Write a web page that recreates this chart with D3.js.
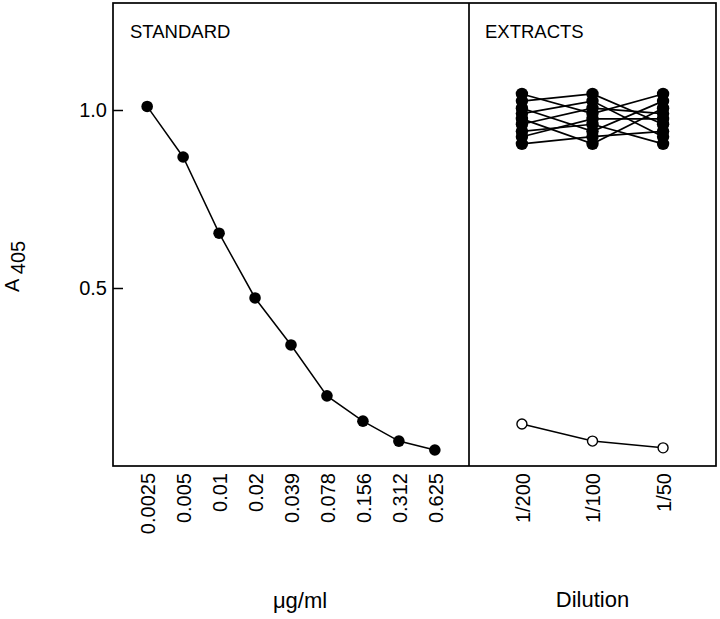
<!DOCTYPE html>
<html>
<head>
<meta charset="utf-8">
<script src="https://cdn.jsdelivr.net/npm/d3@7"></script>
<style>
  body { margin: 0; background: #fff; }
  svg { display: block; font-family: "Liberation Sans", Arial, sans-serif; }
</style>
</head>
<body>
<div id="chart"></div>
<script>
// Standard curve
const concentrations = ['0.0025', '0.005', '0.01', '0.02', '0.039', '0.078', '0.156', '0.312', '0.625'];
const standardA405 = [1.01, 0.868, 0.654, 0.472, 0.340, 0.197, 0.126, 0.070, 0.045];

// Extracts
const dilutions = ['1/200', '1/100', '1/50'];
const extractSeries = [
  [1.045, 0.990, 1.045],
  [1.025, 1.045, 0.960],
  [1.005, 0.940, 1.025],
  [0.990, 1.025, 0.925],
  [0.975, 0.905, 1.005],
  [0.960, 1.005, 0.990],
  [0.940, 0.960, 0.905],
  [0.925, 0.975, 0.975],
  [0.905, 0.925, 0.940]
];
const blankSeries = [0.118, 0.070, 0.051];

const yTicks = [0.5, 1.0];

const width = 720, height = 619;
const frame = { left: 113, mid: 469, right: 716, top: 3, bottom: 466 };

const svg = d3.select('#chart').append('svg')
  .attr('width', width)
  .attr('height', height);

const y = d3.scaleLinear().domain([0, 1.3]).range([frame.bottom, frame.top + 0.2]);

const xStd = d3.scalePoint()
  .domain(concentrations)
  .range([frame.left, frame.mid])
  .padding(0.95);

const xExt = d3.scalePoint()
  .domain(dilutions)
  .range([frame.mid, frame.right])
  .padding(0.75);

// frame
svg.append('rect')
  .attr('x', frame.left).attr('y', frame.top)
  .attr('width', frame.right - frame.left).attr('height', frame.bottom - frame.top)
  .attr('fill', 'none').attr('stroke', '#000').attr('stroke-width', 1.7);
svg.append('line')
  .attr('x1', frame.mid).attr('x2', frame.mid).attr('y1', frame.top).attr('y2', frame.bottom)
  .attr('stroke', '#000').attr('stroke-width', 1.7);

// y axis
svg.append('g')
  .attr('transform', `translate(${frame.left},0)`)
  .call(d3.axisLeft(y).tickValues(yTicks).tickSize(-10).tickPadding(6).tickFormat(d3.format('.1f')))
  .call(g => g.select('.domain').remove())
  .call(g => g.selectAll('.tick line').attr('stroke', '#000').attr('stroke-width', 1.5))
  .call(g => g.selectAll('.tick text').attr('fill', '#000').style('font-size', '20px')
    .attr('font-family', null).attr('x', -6));

// x axes with rotated labels
function xAxis(scale) {
  return g => g
    .attr('transform', `translate(0,${frame.bottom})`)
    .call(d3.axisBottom(scale).tickSize(0))
    .call(g => g.select('.domain').remove())
    .call(g => g.selectAll('.tick text')
      .attr('fill', '#000')
      .attr('font-family', null)
      .style('font-size', '20px')
      .attr('transform', 'rotate(-90)')
      .attr('text-anchor', 'end')
      .attr('x', -7)
      .attr('y', 0)
      .attr('dy', '0.36em'));
}
svg.append('g').call(xAxis(xStd));
svg.append('g').call(xAxis(xExt));

// standard curve
const stdPts = concentrations.map((c, i) => [xStd(c), y(standardA405[i])]);
svg.append('path')
  .attr('d', d3.line()(stdPts))
  .attr('fill', 'none').attr('stroke', '#000').attr('stroke-width', 1.5);
svg.append('g').selectAll('circle')
  .data(stdPts)
  .join('circle')
  .attr('cx', d => d[0]).attr('cy', d => d[1])
  .attr('r', 5.8).attr('fill', '#000');

// extracts
const extLine = d3.line()
  .x((d, i) => xExt(dilutions[i]))
  .y(d => y(d));
svg.append('g').selectAll('path')
  .data(extractSeries)
  .join('path')
  .attr('d', extLine)
  .attr('fill', 'none').attr('stroke', '#000').attr('stroke-width', 1.7);
svg.append('g').selectAll('g')
  .data(extractSeries)
  .join('g')
  .selectAll('circle')
  .data(d => d)
  .join('circle')
  .attr('cx', (d, i) => xExt(dilutions[i]))
  .attr('cy', d => y(d))
  .attr('r', 6.2).attr('fill', '#000');

// blank (open circles)
svg.append('path')
  .attr('d', extLine(blankSeries))
  .attr('fill', 'none').attr('stroke', '#000').attr('stroke-width', 1.5);
svg.append('g').selectAll('circle')
  .data(blankSeries)
  .join('circle')
  .attr('cx', (d, i) => xExt(dilutions[i]))
  .attr('cy', d => y(d))
  .attr('r', 5).attr('fill', '#fff').attr('stroke', '#000').attr('stroke-width', 1.4);

// panel labels
svg.append('text').attr('x', 130).attr('y', 38).style('font-size', '18.5px').text('STANDARD');
svg.append('text').attr('x', 485).attr('y', 38).style('font-size', '18.5px').text('EXTRACTS');

// axis titles
svg.append('text').attr('x', 300).attr('y', 608).attr('text-anchor', 'middle')
  .style('font-size', '22px').text('μg/ml');
svg.append('text').attr('x', (frame.mid + frame.right) / 2).attr('y', 607).attr('text-anchor', 'middle')
  .style('font-size', '22px').text('Dilution');

const yTitle = svg.append('text')
  .attr('transform', 'translate(19,292) rotate(-90)')
  .style('font-size', '20px');
yTitle.append('tspan').text('A ');
yTitle.append('tspan').attr('dy', 6).text('405');
</script>
</body>
</html>
